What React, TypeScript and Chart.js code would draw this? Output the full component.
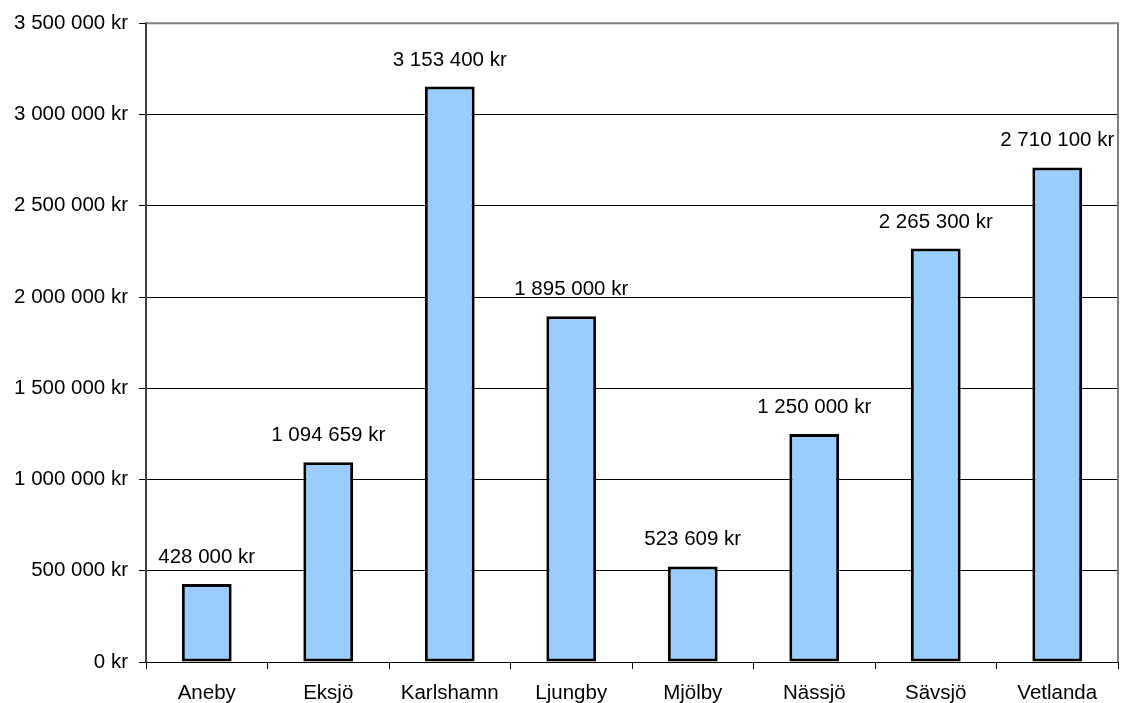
import React, { useEffect, useRef } from "react";
import { Chart, registerables } from "chart.js";

Chart.register(...registerables);

const categories = ["Aneby", "Eksjö", "Karlshamn", "Ljungby", "Mjölby", "Nässjö", "Sävsjö", "Vetlanda"];
const amounts = [428000, 1094659, 3153400, 1895000, 523609, 1250000, 2265300, 2710100];
const yMax = 3500000;
const yStep = 500000;

const FONT = "'Liberation Sans', Arial, sans-serif";
const FS = 20.5;

function fmt(v: number): string {
  return String(Math.round(v)).replace(/\B(?=(\d{3})+(?!\d))/g, " ") + " kr";
}

const labelPlugin = {
  id: "barLabels",
  afterDatasetsDraw(chart: any) {
    const ctx = chart.ctx;
    const meta = chart.getDatasetMeta(0);
    ctx.save();
    ctx.font = `${FS}px ${FONT}`;
    ctx.fillStyle = "#000";
    ctx.textAlign = "center";
    ctx.textBaseline = "alphabetic";
    meta.data.forEach((el: any, i: number) => {
      ctx.fillText(fmt(amounts[i]), el.x, el.y - 21);
    });
    ctx.restore();
  },
  afterDraw(chart: any) {
    const { ctx, chartArea } = chart;
    const { left, right, top, bottom } = chartArea;
    ctx.save();
    ctx.strokeStyle = "#808080";
    ctx.lineWidth = 2;
    ctx.beginPath();
    ctx.moveTo(left, top);
    ctx.lineTo(right, top);
    ctx.lineTo(right, bottom);
    ctx.stroke();
    ctx.strokeStyle = "#404040";
    ctx.lineWidth = 2;
    ctx.beginPath();
    ctx.moveTo(left, top - 1);
    ctx.lineTo(left, bottom);
    ctx.stroke();
    ctx.strokeStyle = "#000";
    ctx.lineWidth = 1;
    ctx.beginPath();
    ctx.moveTo(left, Math.round(bottom) + 0.5);
    ctx.lineTo(right, Math.round(bottom) + 0.5);
    ctx.stroke();
    ctx.restore();
  },
};

export default function App() {
  const ref = useRef<HTMLCanvasElement | null>(null);
  useEffect(() => {
    document.body.style.margin = "0";
    const canvas = ref.current!;
    const chart = new Chart(canvas, {
      type: "bar",
      data: {
        labels: categories,
        datasets: [
          {
            data: amounts,
            backgroundColor: "#99CCFF",
            borderColor: "#000000",
            borderWidth: 3,
            borderSkipped: false,
            barPercentage: 0.41,
            categoryPercentage: 1,
          },
        ],
      },
      options: {
        animation: false,
        responsive: false,
        maintainAspectRatio: false,
        layout: { padding: { top: 22, right: 10, left: 0, bottom: 0 } },
        plugins: { legend: { display: false }, tooltip: { enabled: false } },
        scales: {
          x: {
            offset: true,
            grid: {
              offset: true,
              drawOnChartArea: false,
              tickLength: 7,
              color: "#000",
            },
            border: { display: false },
            ticks: { color: "#000", font: { family: FONT, size: FS }, padding: 12, maxRotation: 0 },
            afterFit(scale: any) {
              scale.height = 41;
            },
          },
          y: {
            min: 0,
            max: yMax,
            grid: {
              tickLength: 7,
              color: (c: any) => (c.tick && (c.tick.value === 0 || c.tick.value === yMax) ? "rgba(0,0,0,0)" : "#000"),
              tickColor: "#000",
            },
            border: { display: false },
            ticks: {
              stepSize: yStep,
              color: "#000",
              font: { family: FONT, size: FS },
              padding: 11,
              callback: (v: any) => fmt(Number(v)),
            },
            afterFit(scale: any) {
              scale.width = 146;
            },
          },
        },
      },
      plugins: [labelPlugin],
    } as any);
    return () => chart.destroy();
  }, []);
  return <canvas ref={ref} width={1128} height={703} style={{ display: "block" }} />;
}
